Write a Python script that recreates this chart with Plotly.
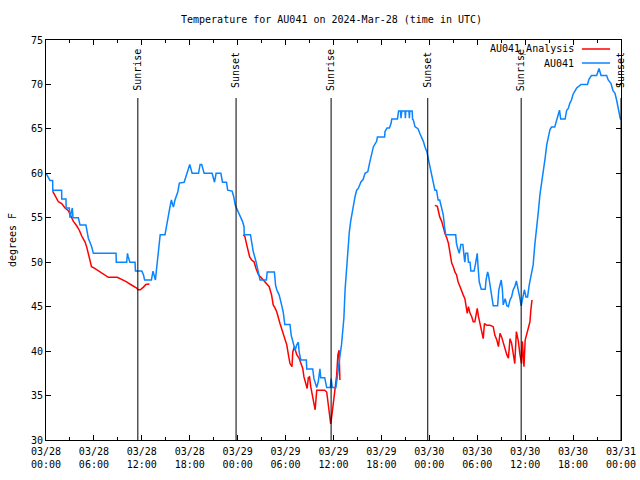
import pandas as pd
import plotly.graph_objects as go

# ---------------- data (hours after 2024-03-28 00:00 UTC, degrees F) ----------------
obs_hours = [0.0, 0.3, 0.5, 0.83, 0.85, 1.96, 1.97, 2.5, 2.52, 2.92, 3.0, 3.3, 3.38, 4.05, 4.26, 5.0,
             5.3, 5.7, 5.93, 8.77, 8.8, 10.1, 10.2, 10.3, 10.5, 11.15, 11.2, 12.0, 12.2, 12.35, 13.2,
             13.4, 13.65, 13.7, 13.85, 13.98, 14.15, 14.3, 14.9, 15.1, 15.3, 15.5, 15.7, 15.95, 16.15,
             16.5, 16.7, 17.3, 17.5, 17.75, 18.0, 18.3, 19.1, 19.3, 19.5, 19.8, 20.8, 21.1, 21.3, 21.9,
             22.1, 22.6, 22.75, 23.3, 23.5, 23.7, 23.9, 24.3, 24.6, 24.8, 24.82, 25.6, 25.75, 25.95,
             26.3, 26.6, 26.8, 27.6, 27.7, 28.6, 28.75, 28.9, 29.2, 29.5, 29.7, 29.9, 30.55, 30.7,
             31.0, 31.2, 31.4, 31.6, 31.7, 31.9, 32.6, 32.65, 33.4, 33.55, 33.9, 34.1, 34.3, 34.4,
             34.9, 35.15, 35.6, 35.7, 35.85, 36.3, 36.45, 36.6, 36.8, 37.0, 37.15, 37.3, 37.45, 37.6,
             37.7, 37.85, 37.98, 38.15, 38.3, 38.5, 38.7, 38.9, 39.1, 39.45, 39.7, 39.95, 40.3, 40.5,
             40.8, 41.0, 41.4, 41.5, 42.4, 42.45, 42.7, 43.0, 43.2, 43.3, 44.0, 44.15, 44.4, 44.45,
             44.55, 44.95, 45.0, 45.05, 45.45, 45.5, 45.55, 45.85, 45.9, 46.0, 46.2, 46.6, 46.8,
             47.05, 47.25, 47.45, 47.7, 47.95, 48.2, 48.45, 48.7, 48.9, 49.1, 49.3, 49.55, 49.75,
             49.9, 50.05, 51.3, 51.4, 51.6, 51.75, 51.95, 52.2, 52.4, 52.45, 52.55, 52.8, 52.9, 53.1,
             53.2, 53.6, 53.8, 53.9, 54.0, 54.1, 54.25, 54.5, 55.0, 55.1, 55.3, 55.4, 55.6, 55.8,
             56.0, 56.55, 56.7, 57.0, 57.15, 57.25, 57.5, 57.7, 57.9, 58.1, 58.3, 58.5, 58.7, 58.9,
             59.15, 59.35, 59.5, 59.7, 59.9, 60.1, 60.3, 60.5, 60.8, 61.0, 61.2, 61.45, 61.65, 61.85,
             62.1, 62.3, 62.5, 62.7, 62.9, 63.1, 63.3, 63.7, 63.95, 64.15, 64.3, 64.45, 65.0, 65.2,
             65.4, 65.6, 65.8, 66.0, 66.25, 66.45, 67.0, 67.8, 68.0, 68.3, 68.95, 69.25, 69.5, 70.2,
             70.4, 70.75, 71.0, 71.25, 71.45, 71.65, 71.9, 72.0]
obs_temp = [60.0, 59.6, 59.2, 59.2, 58.1, 58.1, 57.1, 57.1, 56.1, 56.1, 55.0, 56.1, 55.0, 55.0, 54.2, 54.2,
            52.7, 51.8, 51.0, 51.0, 50.0, 50.0, 51.0, 50.6, 50.0, 50.0, 49.0, 49.0, 48.6, 48.0, 48.0,
            49.0, 48.0, 48.0, 49.3, 50.4, 51.2, 53.1, 53.1, 54.4, 55.1, 56.1, 57.0, 56.2, 57.0,
            57.9, 58.9, 59.0, 59.6, 60.2, 61.0, 60.0, 60.0, 61.0, 61.0, 60.0, 60.0, 59.0, 60.0, 60.0,
            59.0, 59.0, 58.1, 58.0, 57.4, 56.4, 56.0, 55.3, 54.6, 54.0, 53.1, 53.1, 52.1, 51.2,
            50.05, 48.9, 48.0, 48.0, 48.9, 48.9, 47.4, 46.9, 46.3, 45.2, 44.4, 43.0, 43.0, 41.8,
            40.9, 40.1, 40.7, 41.0, 39.9, 39.0, 39.0, 38.0, 38.0, 36.9, 35.9, 36.6, 38.0, 37.0,
            37.0, 35.9, 35.9, 36.9, 35.9, 35.9, 36.9, 38.25, 39.4, 40.7, 42.2, 43.7, 46.9, 48.9,
            50.8, 52.3, 53.4, 54.6, 55.5, 56.4, 57.4, 58.1, 58.3, 59.05, 59.3, 60.0, 60.2, 61.1,
            62.25, 63.0, 63.6, 64.1, 64.1, 64.7, 65.1, 65.1, 65.6, 66.1, 66.1, 67.0, 67.0, 66.2,
            67.0, 67.0, 66.2, 67.0, 67.0, 66.2, 67.0, 67.0, 66.1, 66.0, 65.25, 65.0, 64.5,
            64.05, 63.6, 63.0, 62.4, 61.3, 60.2, 59.05, 58.1, 58.1, 57.0, 57.0, 56.1, 55.3,
            54.0, 53.1, 53.1, 52.1, 51.4, 51.0, 52.0, 52.0, 50.25, 50.0, 51.0, 51.0, 50.0, 50.0,
            49.0, 49.0, 49.9, 50.4, 51.0, 49.5, 47.8, 46.95, 46.95, 48.0, 48.9, 48.6, 47.4, 46.5,
            45.1, 45.1, 46.9, 48.0, 46.9, 45.2, 45.9, 45.1, 45.0, 45.75, 46.1, 46.9, 47.25, 47.9,
            46.9, 45.9, 45.1, 46.1, 46.9, 46.1, 46.1, 47.4, 48.6, 49.7, 51.9, 53.8, 55.7, 57.6,
            59.05, 60.6, 61.7, 63.2, 64.3, 64.9, 65.2, 65.2, 66.0, 66.6, 67.1, 66.1, 66.1, 67.1,
            67.3, 67.9, 68.25, 68.9, 69.4, 69.6, 70.0, 70.0, 70.6, 71.0, 71.0, 71.8, 71.0, 71.0,
            70.5, 70.1, 69.3, 69.0, 68.25, 67.1, 66.2, 66.0]

# analysis series (None = gap in the data)
ana_hours = [0.83, 1.13, 1.55, 1.96, 2.38, 2.8, 3.1, 3.43, 3.84, 4.17, 4.47, 4.88, 5.1, 5.3, 5.5, 5.7,
             6.1, 6.76, 7.4, 7.8, 8.93, 9.5, 10.1, 10.5, 11.05, 11.35, 11.55, 11.8, 12.2, 12.5, 12.95,
             None,
             24.7, 24.9, 25.1, 25.3, 25.5, 25.75, 26.05, 26.3, 26.6, 26.9, 27.2, 27.6, 27.95, 28.25,
             28.45, 28.7, 28.9, 29.3, 29.6, 29.85, 30.15, 30.35, 30.55, 30.8, 30.9, 31.1, 31.4, 31.7,
             31.9, 32.15, 32.3, 32.55, 32.7, 32.85, 33.0, 33.15, 33.4, 33.6, 33.7, 33.9, 34.9, 35.15,
             35.35, 35.5, 35.65, 35.8, 36.0, 36.2, 36.4, 36.55, 36.7, 36.8,
             None,
             48.7, 49.0, 49.1, 49.3, 49.55, 49.75, 49.95, 50.2, 50.4, 50.6, 50.8, 51.0, 51.2, 51.4,
             51.6, 51.85, 52.05, 52.25, 52.45, 52.6, 52.75, 52.9, 53.1, 53.3, 53.5, 53.7, 53.9, 54.0,
             54.15, 54.35, 54.55, 54.75, 54.9, 55.2, 55.6, 56.0, 56.2, 56.45, 56.65, 56.85, 57.05,
             57.25, 57.5, 57.7, 57.9, 58.1, 58.3, 58.5, 58.7, 58.9, 59.15, 59.35, 59.55, 59.65,
             59.75, 59.85, 60.0, 60.2, 60.4, 60.6, 60.7, 60.85]
ana_temp = [58.0, 57.55, 56.8, 56.6, 56.1, 55.8, 55.3, 54.6, 54.1, 53.6, 52.95, 52.3, 51.7, 51.0, 50.4, 49.5,
            49.3, 48.9, 48.6, 48.3, 48.3, 48.1, 47.8, 47.55, 47.3, 47.1, 46.9, 46.9, 47.2, 47.5, 47.55,
            None,
            53.1, 52.9, 52.1, 51.2, 50.6, 50.25, 50.05, 49.3, 48.6, 48.3, 48.0, 47.7, 47.25, 46.3,
            45.2, 44.8, 44.4, 43.1, 42.2, 41.6, 40.7, 39.6, 38.6, 38.25, 39.9, 40.5, 39.6, 39.2,
            38.6, 38.05, 37.1, 36.2, 35.8, 37.0, 37.1, 36.0, 34.9, 33.9, 33.4, 35.6, 35.6, 35.4,
            33.9, 33.0, 31.8, 32.8, 34.3, 35.8, 37.3, 39.6, 40.1, 36.75,
            None,
            56.4, 56.3, 55.9, 55.1, 54.6, 53.8, 53.25, 52.7, 52.1, 51.0, 49.9, 49.5, 48.9, 48.6,
            47.8, 47.25, 46.7, 46.3, 45.9, 45.0, 44.25, 45.0, 44.25, 43.9, 43.3, 43.3, 44.4, 44.8,
            43.9, 43.0, 42.4, 41.4, 43.1, 42.9, 42.9, 42.75, 41.8, 41.25, 40.5, 42.0, 41.6,
            40.9, 40.1, 39.6, 39.2, 41.4, 40.9, 39.75, 38.6, 42.2, 41.1, 39.6, 38.6, 41.1,
            39.0, 38.25, 41.25, 42.0, 42.6, 43.3, 44.5, 45.75]

sun_hours = [11.5, 23.8, 35.7, 47.8, 59.5, 72.0]
sun_labels = ["Sunrise", "Sunset", "Sunrise", "Sunset", "Sunrise", "Sunset"]

series_names = ["AU041_Analysis", "AU041"]
series_colors = ["#ff0000", "#0a84ff"]

title_text = "Temperature for AU041 on 2024-Mar-28 (time in UTC)"
y_label = "degrees F"
start = pd.Timestamp("2024-03-28 00:00")
end = pd.Timestamp("2024-03-31 00:00")


def to_time(hours):
    return [None if h is None else start + pd.Timedelta(hours=h) for h in hours]


FONT = "DejaVu Sans Mono"
FS = 10

fig = go.Figure()
fig.add_trace(go.Scatter(x=to_time(ana_hours), y=ana_temp, mode="lines", name=series_names[0],
                         line=dict(color=series_colors[0], width=1.5), connectgaps=False))
fig.add_trace(go.Scatter(x=to_time(obs_hours), y=obs_temp, mode="lines", name=series_names[1],
                         line=dict(color=series_colors[1], width=1.5)))

# sunrise / sunset markers
for h, lab in zip(sun_hours, sun_labels):
    t = start + pd.Timedelta(hours=h)
    fig.add_shape(type="line", xref="x", yref="paper", x0=t, x1=t, y0=0, y1=0.855,
                  line=dict(color="black", width=1))
    fig.add_annotation(x=t, xref="x", y=0.925, yref="paper", text=lab, textangle=-90,
                       showarrow=False, xanchor="center", yanchor="middle",
                       font=dict(family=FONT, size=FS, color="black"))

# gnuplot-style key (text then line sample)
key_y = [0.9775, 0.9425]
for name, col, yy in zip(series_names, series_colors, key_y):
    fig.add_annotation(x=0.921, xref="paper", y=yy, yref="paper", text=name, showarrow=False,
                       xanchor="right", yanchor="middle", font=dict(family=FONT, size=FS, color="black"))
    fig.add_shape(type="line", xref="paper", yref="paper", x0=0.932, x1=0.981, y0=yy, y1=yy,
                  line=dict(color=col, width=1.5))

fig.update_layout(
    width=640, height=480,
    margin=dict(l=46, r=19, t=40, b=40, autoexpand=False),
    paper_bgcolor="white", plot_bgcolor="white",
    showlegend=False,
    font=dict(family=FONT, size=FS, color="black"),
    title=dict(text=title_text, x=0.518, xanchor="center", y=0.96, yanchor="middle",
               font=dict(family=FONT, size=FS, color="black")),
)
fig.update_xaxes(
    type="date", range=[start, end], tickformat="%m/%d<br>%H:%M", automargin=False,
    dtick=6 * 3600 * 1000, tick0=start, ticks="inside", ticklen=5, tickcolor="black",
    minor=dict(dtick=3 * 3600 * 1000, ticks="inside", ticklen=3, tickcolor="black", showgrid=False),
    showgrid=False, zeroline=False, showline=True, linecolor="black", linewidth=1, mirror="ticks",
    tickfont=dict(family=FONT, size=FS), ticklabelstandoff=2,
)
fig.update_yaxes(
    range=[30, 75], dtick=5, ticks="inside", ticklen=5, tickcolor="black", automargin=False,
    showgrid=False, zeroline=False, showline=True, linecolor="black", linewidth=1, mirror="ticks",
    title=dict(text=y_label, font=dict(family=FONT, size=FS), standoff=12),
    tickfont=dict(family=FONT, size=FS),
)

fig.write_html("out.html", config={"displayModeBar": False},
               post_script="document.body.style.margin='0';document.body.style.padding='0';")
